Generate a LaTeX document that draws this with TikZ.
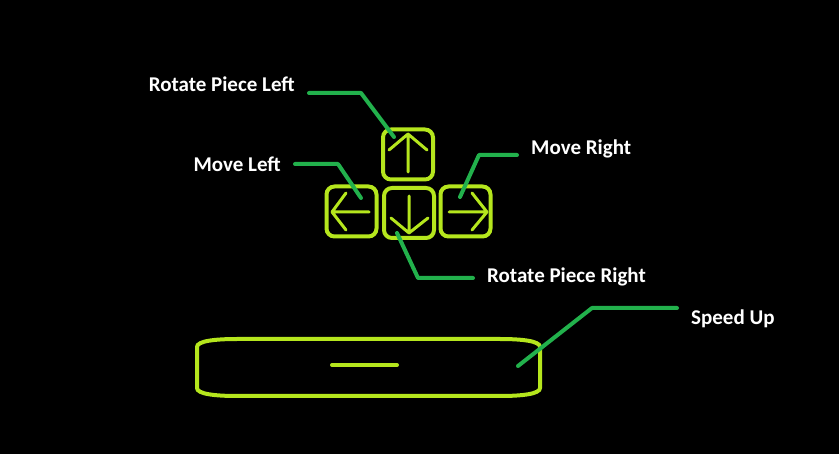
\documentclass[tikz,border=0pt]{standalone}
\usepackage{fontspec}
\setmainfont{Carlito}
\usetikzlibrary{positioning, calc}
\definecolor{keylime}{HTML}{B5E61D}
\definecolor{leadgreen}{HTML}{22B14C}

\begin{document}
\begin{tikzpicture}[x=1pt, y=-1pt,
    keybox/.style={rectangle, draw=keylime, line width=4pt, rounded corners=8pt, minimum width=50pt, minimum height=50pt, inner sep=0pt},
    glyph/.style={draw=keylime, line width=3pt, line cap=round, line join=round},
    leader/.style={draw=leadgreen, line width=4pt, line cap=round, line join=round},
    keylabel/.style={text=white, font=\bfseries\fontsize{21}{24}\selectfont, inner xsep=14pt, inner ysep=0pt}]
    \fill[black] (0,0) rectangle (839,454);
    \useasboundingbox (0,0) rectangle (839,454);

    % arrow keys
    \node[keybox] (up) at (408,154.5) {};
    \node[keybox] (left) at (351.5,211.5) {};
    \node[keybox] (down) at (409,213) {};
    \node[keybox] (right) at (465.5,211.5) {};
    \draw[glyph] (408,172) -- (408,134) (389,150) -- (408,134) -- (427,150);
    \draw[glyph] (369,212) -- (332,212) (346,193) -- (332,212) -- (346,230);
    \draw[glyph] (409,196) -- (409,233) (391,218) -- (409,233) -- (428,218);
    \draw[glyph] (449,212) -- (487,212) (472,193) -- (487,212) -- (472,230);

    % space bar
    \draw[keylime, line width=4pt] (197,347) .. controls (197,341) and (215,339) .. (237,339) -- (500,339)
        .. controls (522,339) and (540,341) .. (540,347) -- (540,388)
        .. controls (540,394) and (522,396) .. (500,396) -- (237,396)
        .. controls (215,396) and (197,394) .. (197,388) -- cycle;
    \draw[keylime, line width=4pt, line cap=round] (332,365) -- (397,365);

    % labels
    \node[keylabel, anchor=base east] (rpl) at (309,92) {Rotate Piece Left};
    \node[keylabel, anchor=base east] (ml) at (295,172) {Move Left};
    \node[keylabel, anchor=base west] (mr) at (517,155) {Move Right};
    \node[keylabel, anchor=base west] (rpr) at (473,283) {Rotate Piece Right};
    \node[keylabel, anchor=base west] (su) at (677,325) {Speed Up};

    % leader lines
    \coordinate (rplbend) at (361,93);  \coordinate (rpltip) at (394,137);
    \coordinate (mlbend) at (338,164);  \coordinate (mltip) at (361,198);
    \coordinate (mrbend) at (479,155);  \coordinate (mrtip) at (460,197);
    \coordinate (rprbend) at (418,278); \coordinate (rprtip) at (397,233);
    \coordinate (subend) at (592,308);  \coordinate (sutip) at (518,366);
    \draw[leader] (rpl.east |- rplbend) -- (rplbend) -- (rpltip);
    \draw[leader] (ml.east |- mlbend) -- (mlbend) -- (mltip);
    \draw[leader] (mr.west |- mrbend) -- (mrbend) -- (mrtip);
    \draw[leader] (rpr.west |- rprbend) -- (rprbend) -- (rprtip);
    \draw[leader] (su.west |- subend) -- (subend) -- (sutip);
\end{tikzpicture}
\end{document}
